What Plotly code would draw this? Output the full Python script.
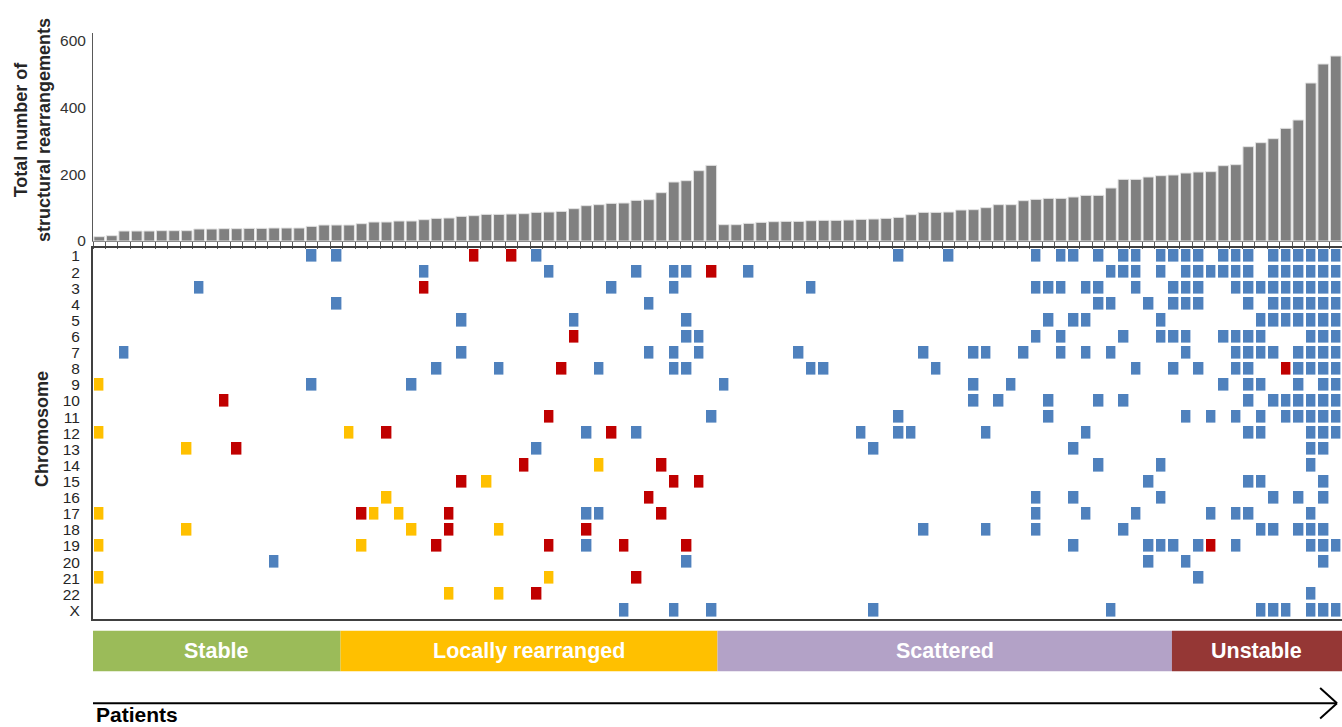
import numpy as np
import plotly.graph_objects as go

# ---------------- data ----------------
patients = list(range(100))

total_rearrangements = [
    13, 16, 30, 30, 30, 31, 31, 31, 36, 36,
    37, 37, 38, 38, 39, 39, 39, 44, 48, 48,
    48, 52, 57, 57, 60, 60, 64, 68, 69, 74,
    76, 80, 80, 81, 82, 86, 87, 89, 97, 106,
    109, 113, 114, 122, 124, 145, 177, 181, 211, 227,
    49, 49, 53, 56, 58, 59, 59, 61, 62, 62,
    63, 65, 66, 68, 71, 79, 86, 86, 87, 93,
    94, 100, 109, 109, 121, 125, 128, 128, 132, 137,
    137, 159, 185, 185, 192, 196, 198, 204, 207, 208,
    226, 229, 283, 295, 307, 338, 363, 474, 531, 555,
]

chromosomes = [str(i) for i in range(1, 23)] + ["X"]

blue_cells = {
    "1": [17, 19, 35, 64, 68, 75, 77, 78, 80, 82, 83, 85, 86, 87, 88, 90, 91, 92, 94, 95, 96, 97, 98, 99],
    "2": [26, 36, 43, 46, 47, 52, 81, 82, 83, 85, 87, 88, 89, 90, 91, 92, 94, 95, 96, 97, 98, 99],
    "3": [8, 41, 46, 57, 75, 76, 77, 79, 80, 83, 86, 87, 88, 91, 92, 93, 94, 95, 96, 97, 98, 99],
    "4": [19, 44, 80, 81, 84, 86, 87, 88, 92, 94, 95, 96, 97, 98, 99],
    "5": [29, 38, 47, 76, 78, 79, 85, 93, 94, 95, 96, 97, 98, 99],
    "6": [47, 48, 75, 77, 82, 85, 86, 87, 90, 91, 92, 93, 97, 98, 99],
    "7": [2, 29, 44, 46, 48, 56, 66, 70, 71, 74, 77, 79, 81, 87, 91, 92, 93, 94, 96, 97, 98, 99],
    "8": [27, 32, 40, 46, 47, 57, 58, 67, 83, 86, 88, 91, 92, 96, 97, 98, 99],
    "9": [17, 25, 50, 70, 73, 90, 92, 93, 96, 98, 99],
    "10": [70, 72, 76, 80, 82, 92, 94, 95, 96, 97, 98, 99],
    "11": [49, 64, 76, 87, 89, 91, 93, 95, 96, 97, 98, 99],
    "12": [39, 43, 61, 64, 65, 71, 79, 92, 93, 97, 98, 99],
    "13": [35, 62, 78, 97, 98],
    "14": [80, 85, 97],
    "15": [84, 92, 93, 98],
    "16": [75, 78, 85, 94, 96, 98],
    "17": [39, 40, 75, 79, 83, 89, 91, 92, 97],
    "18": [66, 71, 75, 82, 93, 94, 96, 97, 98],
    "19": [39, 78, 84, 85, 86, 88, 91, 97, 98, 99],
    "20": [14, 47, 84, 87, 98],
    "21": [88],
    "22": [97],
    "X": [42, 46, 49, 62, 81, 93, 94, 95, 97, 98, 99],
}

red_cells = {
    "1": [30, 33],
    "2": [49],
    "3": [26],
    "6": [38],
    "8": [37, 95],
    "10": [10],
    "11": [36],
    "12": [23, 41],
    "13": [11],
    "14": [34, 45],
    "15": [29, 46, 48],
    "16": [44],
    "17": [21, 28, 45],
    "18": [28, 39],
    "19": [27, 36, 42, 47, 89],
    "21": [43],
    "22": [35],
}

yellow_cells = {
    "9": [0],
    "12": [0, 20],
    "13": [7],
    "14": [40],
    "15": [31],
    "16": [23],
    "17": [0, 22, 24],
    "18": [7, 25, 32],
    "19": [0, 21],
    "21": [0, 36],
    "22": [28, 32],
}

groups = ["Stable", "Locally rearranged", "Scattered", "Unstable"]

# ---------------- styling / layout constants ----------------
W, H = 1342, 727
ML = 93
FONT = "Liberation Sans, Arial, sans-serif"
BLUE, RED, YELLOW = "#4F81BD", "#C00000", "#FFC000"
group_colors = ["#9BBB59", "#FFC000", "#B3A2C7", "#953735"]
band_edges = [-0.52, 19.32, 49.5, 85.88, 99.6]


def py(px):  # pixel row -> paper y (margins t=b=0)
    return 1 - px / H


def pxx(px):  # pixel column -> paper x (plot area starts at ML)
    return (px - ML) / (W - ML)


# build matrix
z = np.full((len(chromosomes), len(patients)), np.nan)
for code, cells in ((1, blue_cells), (2, red_cells), (3, yellow_cells)):
    for chrom, cols in cells.items():
        r = chromosomes.index(chrom)
        for c in cols:
            z[r, c] = code

fig = go.Figure()

fig.add_trace(go.Bar(
    x=patients, y=total_rearrangements,
    marker=dict(color="#808080", line=dict(color="#e3e3e3", width=1)),
    width=0.86, xaxis="x", yaxis="y", hoverinfo="skip",
))

fig.add_trace(go.Heatmap(
    x=patients, y=chromosomes, z=z,
    zmin=1, zmax=3,
    colorscale=[[0, BLUE], [0.25, BLUE], [0.25, RED], [0.75, RED], [0.75, YELLOW], [1, YELLOW]],
    showscale=False, xgap=2.6, ygap=3.4,
    xaxis="x2", yaxis="y2", hoverinfo="skip",
))

shapes = []
annotations = []

# category bands
band_y0, band_y1 = py(671.3), py(630.7)
for g, col, x0, x1 in zip(groups, group_colors, band_edges[:-1], band_edges[1:]):
    shapes.append(dict(type="rect", xref="x2", yref="paper", x0=x0, x1=x1,
                       y0=band_y0, y1=band_y1, fillcolor=col, line=dict(width=0), layer="above"))
    annotations.append(dict(xref="x2", yref="paper", x=(x0 + min(x1, 99.5)) / 2, y=py(651),
                            text=f"<b>{g}</b>", showarrow=False, xanchor="center", yanchor="middle",
                            font=dict(family=FONT, size=21.5, color="white")))

# arrow along the bottom
arrow_y = py(703.3)
tip = 99.1
shapes.append(dict(type="line", xref="x2", yref="paper", x0=-0.5, x1=tip, y0=arrow_y, y1=arrow_y,
                   line=dict(color="black", width=2)))
shapes.append(dict(type="line", xref="x2", yref="paper", x0=97.75, x1=tip, y0=py(688), y1=arrow_y,
                   line=dict(color="black", width=2)))
shapes.append(dict(type="line", xref="x2", yref="paper", x0=97.75, x1=tip, y0=py(718.5), y1=arrow_y,
                   line=dict(color="black", width=2)))

annotations.append(dict(xref="paper", yref="paper", x=pxx(94), y=py(727.5), text="<b>Patients</b>",
                        showarrow=False, xanchor="left", yanchor="bottom",
                        font=dict(family=FONT, size=21, color="black")))
annotations.append(dict(xref="paper", yref="paper", x=pxx(33), y=py(130),
                        text="<b>Total number of<br>structural rearrangements</b>",
                        showarrow=False, textangle=-90, xanchor="center", yanchor="middle",
                        font=dict(family=FONT, size=18, color="#262626")))
annotations.append(dict(xref="paper", yref="paper", x=pxx(42), y=py(429),
                        text="<b>Chromosome</b>", showarrow=False, textangle=-90,
                        xanchor="center", yanchor="middle",
                        font=dict(family=FONT, size=18, color="#262626")))

n = len(patients)
fig.update_layout(
    width=W, height=H,
    margin=dict(l=ML, r=0, t=0, b=0, autoexpand=False),
    paper_bgcolor="white", plot_bgcolor="white",
    showlegend=False,
    font=dict(family=FONT, size=15, color="#333333"),
    xaxis=dict(domain=[0, 1], range=[-0.5, n - 0.5], showgrid=False, zeroline=False,
               showline=True, linecolor="#8c8c8c", linewidth=1,
               ticks="outside", tickvals=[i - 0.5 for i in range(n + 1)], ticklen=7,
               tickcolor="#595959", tickwidth=1, showticklabels=False, anchor="y"),
    yaxis=dict(domain=[py(241), py(33)], range=[0, 624], showgrid=False, zeroline=False,
               showline=True, linecolor="#595959", linewidth=1,
               tickvals=[0, 200, 400, 600], ticks="", ticklabelstandoff=3,
               tickfont=dict(family=FONT, size=15.5, color="#333333"), anchor="x"),
    xaxis2=dict(domain=[0, 1], range=[-0.5, n - 0.5], showgrid=False, zeroline=False,
                showline=True, mirror=True, linecolor="#404040", linewidth=2,
                showticklabels=False, ticks="", anchor="y2"),
    yaxis2=dict(domain=[py(618.5), py(248)], type="category", categoryorder="array",
                categoryarray=chromosomes, autorange="reversed", showgrid=False, zeroline=False,
                showline=True, mirror=True, linecolor="#404040", linewidth=2,
                tickmode="array", tickvals=chromosomes, ticktext=chromosomes,
                ticks="", ticklabelstandoff=8,
                tickfont=dict(family=FONT, size=15.5, color="#262626"), anchor="x2"),
    shapes=shapes,
    annotations=annotations,
)

fig.write_html(
    "out.html",
    config={"displayModeBar": False},
    post_script="document.body.style.margin='0';document.body.style.overflow='hidden';",
)
